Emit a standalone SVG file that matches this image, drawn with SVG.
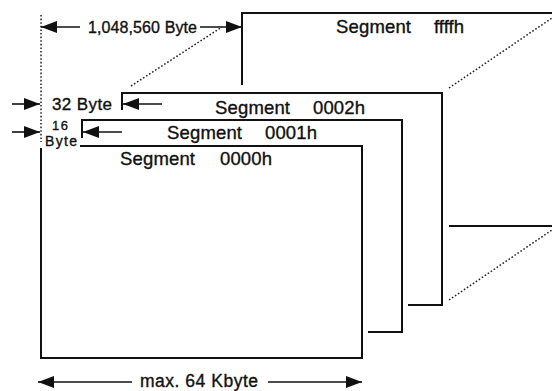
<svg xmlns="http://www.w3.org/2000/svg" width="552" height="391" viewBox="0 0 552 391">
<style>
.edge{fill:none;stroke:#111;stroke-width:2;stroke-linejoin:miter}
.dot{fill:none;stroke:#222;stroke-width:1.5;stroke-dasharray:1.6 2}
.dim{fill:none;stroke:#111;stroke-width:1.6;marker-end:url(#ah)}
.lbl{font-family:"Liberation Sans",Arial,sans-serif;fill:#111;stroke:#111;stroke-width:0.35}
.seg{font-size:18.5px}
</style>
<defs>
<marker id="ah" markerUnits="userSpaceOnUse" markerWidth="16" markerHeight="12" refX="16" refY="6" orient="auto">
<path d="M0,0 L16,6 L0,12 Z" fill="#111"/>
</marker>
</defs>
<rect width="552" height="391" fill="#fff"/>
<g id="segment-ffffh">
<polyline class="edge" points="242,85 242,13 552,13"/>
<line class="edge" x1="449" y1="226" x2="552" y2="226"/>
<text class="lbl seg" y="33"><tspan x="336" textLength="75" lengthAdjust="spacing">Segment</tspan><tspan x="434" textLength="30" lengthAdjust="spacing">ffffh</tspan></text>
</g>
<g id="segment-0002h">
<polyline class="edge" points="122,110 122,93 442,93 442,305 408,305"/>
<text class="lbl seg" y="114"><tspan x="215" textLength="75" lengthAdjust="spacing">Segment</tspan><tspan x="313" textLength="52" lengthAdjust="spacing">0002h</tspan></text>
</g>
<g id="segment-0001h">
<polyline class="edge" points="82,138 82,120 402,120 402,332 368,332"/>
<text class="lbl seg" y="139"><tspan x="167" textLength="75" lengthAdjust="spacing">Segment</tspan><tspan x="265" textLength="52" lengthAdjust="spacing">0001h</tspan></text>
</g>
<g id="segment-0000h">
<polyline class="edge" points="80,146 362,146 362,358 41,358 41,148"/>
<text class="lbl seg" y="165"><tspan x="120" textLength="75" lengthAdjust="spacing">Segment</tspan><tspan x="220" textLength="52" lengthAdjust="spacing">0000h</tspan></text>
</g>
<g id="connectors">
<line class="dot" x1="41" y1="15" x2="41" y2="142"/>
<line class="dot" x1="131" y1="86" x2="222" y2="27"/>
<line class="dot" x1="449" y1="88" x2="552" y2="18"/>
<line class="dot" x1="449" y1="300" x2="552" y2="230"/>
<line class="dim" x1="80" y1="27" x2="41" y2="27"/>
<line class="dim" x1="200" y1="27" x2="242" y2="27"/>
<line class="dim" x1="12" y1="104" x2="40" y2="104"/>
<line class="dim" x1="162" y1="104" x2="123" y2="104"/>
<line class="dim" x1="12" y1="132" x2="40" y2="132"/>
<line class="dim" x1="122" y1="132" x2="83" y2="132"/>
<line class="dim" x1="132" y1="382" x2="38" y2="382"/>
<line class="dim" x1="268" y1="382" x2="362" y2="382"/>
</g>
<g id="labels">
<text class="lbl" x="88" y="33" font-size="16" textLength="109" lengthAdjust="spacing">1,048,560 Byte</text>
<text class="lbl" x="52" y="110" font-size="17" textLength="60" lengthAdjust="spacing">32 Byte</text>
<text class="lbl" x="52" y="130" font-size="13" textLength="16" lengthAdjust="spacing">16</text>
<text class="lbl" x="45" y="146" font-size="14" textLength="32" lengthAdjust="spacing">Byte</text>
<text class="lbl" x="140" y="387" font-size="17.5" textLength="118" lengthAdjust="spacing">max. 64 Kbyte</text>
</g>
</svg>
